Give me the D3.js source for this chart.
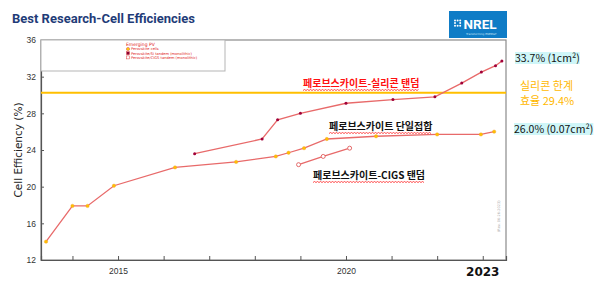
<!DOCTYPE html>
<html>
<head>
<meta charset="utf-8">
<script src="https://cdn.jsdelivr.net/npm/d3@7"></script>
<style>
  body { margin: 0; background: #fff; }
  svg { display: block; font-family: "DejaVu Sans", sans-serif; }
</style>
</head>
<body>
<div id="chart"></div>
<script>
// values (year, efficiency %)
const perovskiteYears = [2013.42, 2014.0, 2014.33, 2014.91, 2016.25, 2017.59, 2018.46, 2018.74, 2019.08, 2019.58, 2020.66, 2022.0, 2022.96, 2023.25];
const perovskiteEff = [14.0, 17.9, 17.9, 20.1, 22.1, 22.7, 23.3, 23.7, 24.2, 25.2, 25.5, 25.7, 25.7, 26.0];

const siTandemYears = [2016.68, 2018.16, 2018.5, 2019.0, 2020.0, 2021.03, 2021.95, 2022.54, 2022.97, 2023.28, 2023.42];
const siTandemEff = [23.6, 25.2, 27.3, 28.0, 29.1, 29.5, 29.8, 31.3, 32.5, 33.2, 33.7];

const cigsYears = [2018.96, 2019.5, 2020.08];
const cigsEff = [22.4, 23.3, 24.2];

const siliconLimit = 30.25;
const yTicks = [12, 16, 20, 24, 28, 32, 36];
const xTicks = [2014, 2015, 2016, 2017, 2018, 2019, 2020, 2021, 2022, 2023];
const xLabels = [2015, 2020];
const legendItems = ["Perovskite cells", "Perovskite/Si tandem (monolithic)", "Perovskite/CIGS tandem (monolithic)"];

const width = 600;
const height = 284;

const x = d3.scaleLinear().domain([2013.31, 2023.51]).range([41, 506]);
const y = d3.scaleLinear().domain([12, 36]).range([260, 40]);

const svg = d3.select("#chart").append("svg")
    .attr("width", width)
    .attr("height", height);

// title
svg.append("text")
    .attr("x", 12).attr("y", 23)
    .style("font-family", "Roboto, sans-serif")
    .style("font-weight", "bold")
    .style("font-size", "13px")
    .style("fill", "#1f3c78")
    .text("Best Research-Cell Efficiencies");

// NREL logo box
const logo = svg.append("g").attr("transform", "translate(449,11)");
logo.append("rect").attr("width", 58).attr("height", 27).style("fill", "#0f7cc6");
[[0, 0], [1, 0], [2, 0], [0, 1], [2, 1], [0, 2], [1, 2], [2, 2]].forEach(function (p) {
    logo.append("circle")
        .attr("cx", 6 + p[0] * 2.6).attr("cy", 9.5 + p[1] * 2.6)
        .attr("r", 1).style("fill", "#fff");
});
logo.append("text")
    .attr("x", 14.5).attr("y", 18)
    .style("font-family", "Roboto, sans-serif")
    .style("font-weight", "bold")
    .style("font-size", "13.5px")
    .style("fill", "#fff")
    .text("NREL");
logo.append("text")
    .attr("x", 17).attr("y", 23.5)
    .style("font-size", "2.8px")
    .style("fill", "#cfe8f7")
    .text("Transforming ENERGY");

// frame
svg.append("rect")
    .attr("x", 41).attr("y", 40)
    .attr("width", 465).attr("height", 220)
    .style("fill", "none")
    .style("stroke", "#8a8a8a")
    .style("stroke-width", 1.2);

// axes
const yAxis = svg.append("g")
    .attr("transform", "translate(41,0)")
    .call(d3.axisLeft(y).tickValues(yTicks).tickSize(-3).tickPadding(5).tickFormat(d3.format("d")));
const xAxis = svg.append("g")
    .attr("transform", "translate(0,260)")
    .call(d3.axisBottom(x).tickValues(xTicks).tickSize(-4).tickPadding(6)
        .tickFormat(function (d) { return xLabels.indexOf(d) >= 0 ? d : ""; }));
[yAxis, xAxis].forEach(function (a) {
    a.select(".domain").style("stroke", "#555").style("stroke-width", 1.2);
    a.selectAll(".tick line").style("stroke", "#555");
    a.selectAll(".tick text").style("font-size", "8.5px").style("fill", "#333");
});
xAxis.selectAll(".tick text").attr("dy", "0.9em");

svg.append("text")
    .attr("x", x(2023)).attr("y", 276)
    .attr("text-anchor", "middle")
    .style("font-weight", "bold")
    .style("font-size", "12px")
    .style("fill", "#111")
    .text("2023");

svg.append("text")
    .attr("transform", "translate(22,150) rotate(-90)")
    .attr("text-anchor", "middle")
    .style("font-size", "10.5px")
    .style("fill", "#222")
    .text("Cell Efficiency (%)");

// legend box
svg.append("rect")
    .attr("x", 41).attr("y", 40)
    .attr("width", 184).attr("height", 31)
    .style("fill", "#fff")
    .style("stroke", "#b5b5b5")
    .style("stroke-width", 1);
svg.append("text")
    .attr("x", 126).attr("y", 45.5)
    .style("font-size", "4.5px")
    .style("fill", "#e02020")
    .text("Emerging PV");
legendItems.forEach(function (name, i) {
    const ly = 49 + i * 4.2;
    if (i === 0) {
        svg.append("circle").attr("cx", 128).attr("cy", ly).attr("r", 1.6)
            .style("fill", "#ffd200").style("stroke", "#e04040").style("stroke-width", 0.5);
    } else if (i === 1) {
        svg.append("rect").attr("x", 126.5).attr("y", ly - 1.5).attr("width", 3).attr("height", 3)
            .style("fill", "#8a0030").style("stroke", "#e04040").style("stroke-width", 0.4);
    } else {
        svg.append("rect").attr("x", 126.5).attr("y", ly - 1.5).attr("width", 3).attr("height", 3)
            .style("fill", "#fff").style("stroke", "#e04040").style("stroke-width", 0.5);
    }
    svg.append("text")
        .attr("x", 131).attr("y", ly + 1.4)
        .style("font-size", "3.6px")
        .style("fill", "#e02020")
        .text(name);
});

// silicon limit
svg.append("line")
    .attr("x1", x.range()[0]).attr("x2", x.range()[1])
    .attr("y1", y(siliconLimit)).attr("y2", y(siliconLimit))
    .style("stroke", "#ffbf00")
    .style("stroke-width", 2);

// series
const line = d3.line().x(function (d) { return x(d[0]); }).y(function (d) { return y(d[1]); });
function drawSeries(years, effs, marker) {
    const pts = d3.zip(years, effs);
    svg.append("path")
        .datum(pts)
        .attr("d", line)
        .style("fill", "none")
        .style("stroke", "#e86a6a")
        .style("stroke-width", 1.3);
    const g = svg.append("g");
    pts.forEach(function (d) {
        if (marker === "dot") {
            g.append("circle").attr("cx", x(d[0])).attr("cy", y(d[1])).attr("r", 1.7)
                .style("fill", "#ffc000").style("stroke", "#f29a30").style("stroke-width", 0.4);
        } else if (marker === "square") {
            g.append("circle").attr("cx", x(d[0])).attr("cy", y(d[1])).attr("r", 1.5)
                .style("fill", "#a00038");
        } else {
            g.append("circle").attr("cx", x(d[0])).attr("cy", y(d[1])).attr("r", 2)
                .style("fill", "#fff").style("stroke", "#e05a5a").style("stroke-width", 0.9);
        }
    });
}
drawSeries(perovskiteYears, perovskiteEff, "dot");
drawSeries(siTandemYears, siTandemEff, "square");
drawSeries(cigsYears, cigsEff, "open");

// korean annotations with spell-check squiggles
function note(tx, ty, txt, color) {
    const t = svg.append("text")
        .attr("x", tx).attr("y", ty)
        .style("font-family", "'Noto Sans CJK KR', sans-serif")
        .style("font-weight", "bold")
        .style("font-size", "10px")
        .style("fill", color)
        .text(txt);
    const w = t.node().getComputedTextLength();
    let d = "M" + tx + "," + (ty + 3.5);
    for (let sx = tx + 1.5, k = 0; sx <= tx + w; sx += 1.5, k++) {
        d += "L" + sx + "," + (ty + (k % 2 === 0 ? 2.5 : 3.5));
    }
    svg.append("path")
        .attr("d", d)
        .style("fill", "none")
        .style("stroke", "#ff2020")
        .style("stroke-width", 0.8);
}
note(303, 87, "페로브스카이트-실리콘 탠덤", "#ff1010");
note(329, 130, "페로브스카이트 단일접합", "#111");
note(313, 179, "페로브스카이트-CIGS 탠덤", "#111");

// right side labels
function boxed(tx, ty, txt) {
    const t = svg.append("text")
        .attr("x", tx).attr("y", ty)
        .style("font-family", "'Noto Sans CJK KR', sans-serif")
        .style("font-size", "10.5px")
        .style("fill", "#111")
        .text(txt);
    const b = t.node().getBBox();
    svg.insert("rect", function () { return t.node(); })
        .attr("x", b.x).attr("y", b.y + 2)
        .attr("width", b.width).attr("height", b.height - 3)
        .style("fill", "#cff6f8");
}
boxed(515, 62, "33.7% (1cm²)");
boxed(514, 133, "26.0% (0.07cm²)");

svg.append("text")
    .attr("x", 520).attr("y", 90)
    .style("font-family", "'Noto Sans CJK KR', sans-serif")
    .style("font-size", "11px")
    .style("fill", "#ffb800")
    .text("실리콘 한계");
svg.append("text")
    .attr("x", 520).attr("y", 105)
    .style("font-family", "'Noto Sans CJK KR', sans-serif")
    .style("font-size", "11px")
    .style("fill", "#ffb800")
    .text("효율 29.4%");

// revision stamp
svg.append("text")
    .attr("transform", "translate(500,232) rotate(-90)")
    .style("font-size", "3.5px")
    .style("fill", "#aaa")
    .text("(Rev. 06-26-2023)");
</script>
</body>
</html>
